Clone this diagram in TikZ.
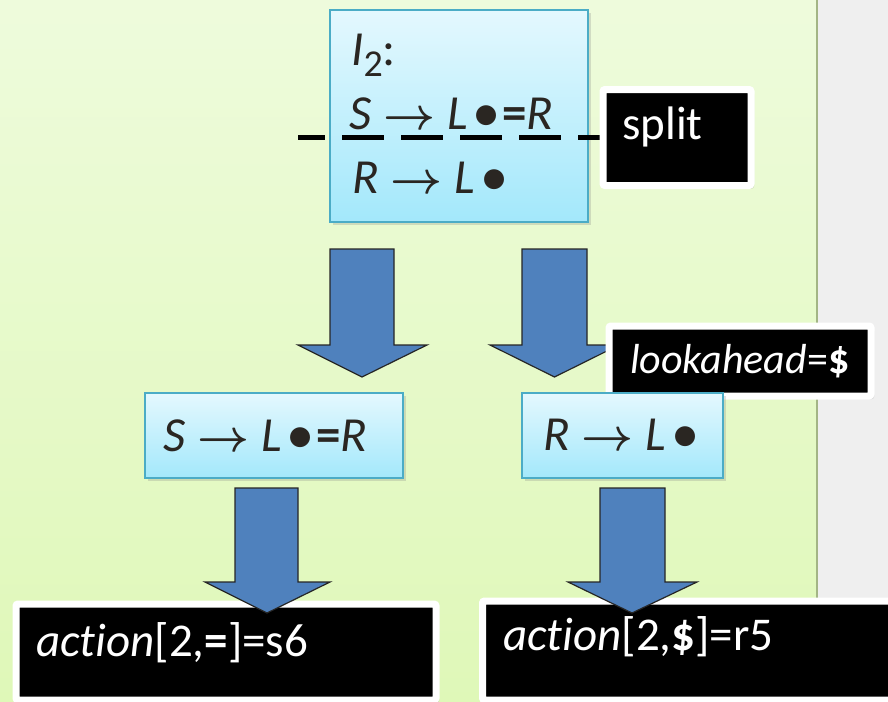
\documentclass[tikz,border=0pt]{standalone}
\usepackage{fix-cm}
\usepackage{graphicx}
\usepackage{fontspec}
\setmainfont{Carlito}[Ligatures={NoCommon,NoContextual}]
\usetikzlibrary{shadows}
\definecolor{bgtop}{HTML}{EEFBDC}
\definecolor{bgbot}{HTML}{DFF8B8}
\definecolor{strip}{HTML}{EFEFEF}
\definecolor{stripline}{HTML}{A3B585}
\definecolor{cyantop}{HTML}{E4F8FE}
\definecolor{cyanbot}{HTML}{A3E8FB}
\definecolor{cyanline}{HTML}{4BACC6}
\definecolor{arrowfill}{HTML}{4F81BD}
\definecolor{txtdark}{HTML}{2A2622}
\newcommand{\bigdot}{\hspace{5pt}\raisebox{-2pt}{\scalebox{1.15}{•}}\hspace{1pt}}
\newcommand{\rarr}{\hspace{12pt}\resizebox{52pt}{!}{\boldmath$\rightarrow$}\hspace{12pt}}
\newcommand{\subtwo}{\raisebox{-11pt}{\fontsize{38}{38}\selectfont 2}}
\begin{document}
\begin{tikzpicture}[x=1pt,y=-1pt,
  cyanbox/.style={draw=cyanline, line width=2pt, top color=cyantop, bottom color=cyanbot, inner sep=0pt,
     drop shadow={shadow xshift=3pt, shadow yshift=-3pt, opacity=0.25}},
  blackbox/.style={draw=white, line width=7pt, fill=black, rounded corners=2pt, inner sep=0pt,
     drop shadow={shadow xshift=3pt, shadow yshift=-3pt, opacity=0.3}},
  bigtxt/.style={anchor=base west, inner sep=0pt, text=txtdark, font=\fontsize{49}{53}\selectfont},
  whitetxt/.style={anchor=base west, inner sep=0pt, text=white},
  blockarrow/.style={fill=arrowfill, draw=black!85, line width=1.2pt, line join=miter},
  dashline/.style={line width=5pt, dash pattern=on 42pt off 17pt, dash phase=15pt}]
\useasboundingbox (0,0) rectangle (888,701);
% background
\shade[top color=bgtop, bottom color=bgbot] (0,0) rectangle (817,701);
\fill[strip] (817,0) rectangle (888,701);
\draw[stripline, line width=2pt] (817,0) -- (817,701);
% I2 box
\node[cyanbox, minimum width=258pt, minimum height=212pt] (I2) at (459,116) {};
\node[bigtxt] (t1) at (351,65) {\textit{I}\subtwo:};
\node[bigtxt] (t2) at (349,129) {\textit{S}\rarr\textit{L}\bigdot\textbf{=}\textit{R}};
\node[bigtxt] (t3) at (352,193) {\textit{R}\rarr\textit{L}\bigdot};
% dashed split line
\coordinate (dashL) at (298,137);
\coordinate (dashR) at (604,137);
\draw[dashline] (dashL) -- (dashR);
\node[blackbox, minimum width=148pt, minimum height=96pt] (split) at (677,137.5) {};
\node[whitetxt, font=\fontsize{47}{50}\selectfont] (splittxt) at (622,139) {split};
% upper arrows
\draw[blockarrow] (330,249) -- (394,249) -- (394,345) -- (427,345) -- (362,377) -- (298,345) -- (330,345) -- cycle;
\draw[blockarrow] (522,249) -- (587,249) -- (587,345) -- (619,345) -- (554.5,377) -- (490,345) -- (522,345) -- cycle;
% lookahead
\node[blackbox, minimum width=262pt, minimum height=70pt] (look) at (740,361) {};
\node[whitetxt, font=\fontsize{42}{46}\selectfont] (looktxt) at (630,373) {\textit{lookahead}=\textbf{\$}};
% middle boxes
\node[cyanbox, minimum width=258pt, minimum height=85pt] (left) at (274,435.5) {};
\node[bigtxt] (lt) at (163,451) {\textit{S}\rarr\textit{L}\bigdot\textbf{=}\textit{R}};
\node[cyanbox, minimum width=201pt, minimum height=85pt] (right) at (622.5,435.5) {};
\node[bigtxt] (rt) at (543,450) {\textit{R}\rarr\textit{L}\bigdot};
% action boxes
\node[blackbox, minimum width=420pt, minimum height=96pt] (actL) at (226,652) {};
\node[whitetxt, font=\fontsize{47}{50}\selectfont] (actLt) at (36,656) {\textit{action}[2,\textbf{=}]=s6};
\node[blackbox, minimum width=418pt, minimum height=99pt] (actR) at (691.5,650.5) {};
\node[whitetxt, font=\fontsize{47}{50}\selectfont] (actRt) at (503,650) {\textit{action}[2,\textbf{\$}]=r5};
% lower arrows
\draw[blockarrow] (235,488) -- (298,488) -- (298,582) -- (330,582) -- (267,613) -- (205,582) -- (235,582) -- cycle;
\draw[blockarrow] (600,488) -- (665,488) -- (665,582) -- (697,582) -- (632,613) -- (568,582) -- (600,582) -- cycle;
\end{tikzpicture}
\end{document}
